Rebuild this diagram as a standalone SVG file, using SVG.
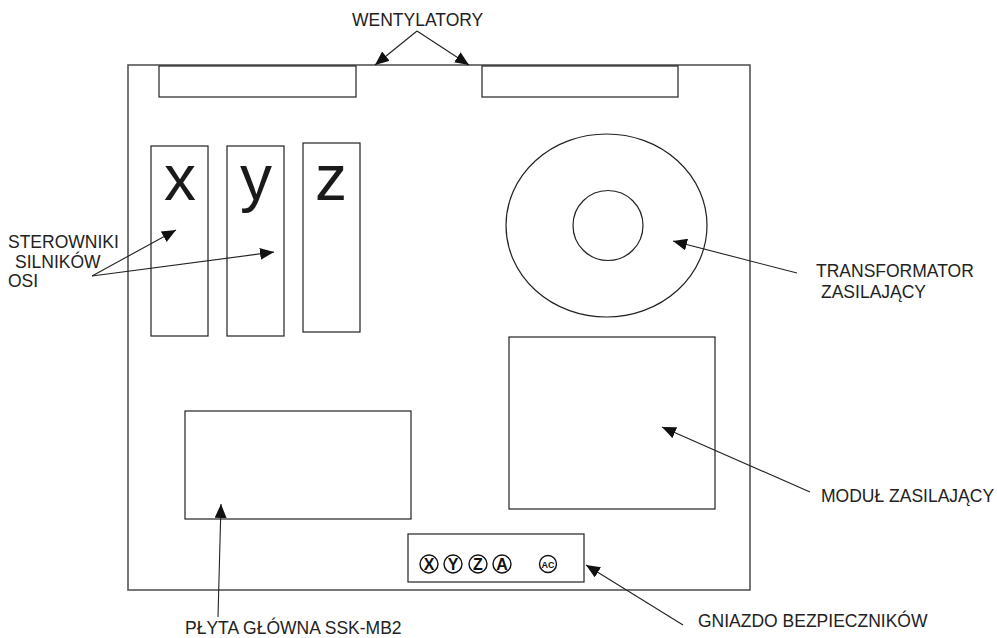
<svg xmlns="http://www.w3.org/2000/svg" width="997" height="638" viewBox="0 0 997 638">
<defs>
<style>
.box{fill:none;stroke:#222;stroke-width:1.2}
.frame{fill:none;stroke:#555;stroke-width:1.6}
.lbl{font-family:"Liberation Sans",Arial,sans-serif;font-size:17.5px;fill:#222}
.big{font-family:"Liberation Sans",Arial,sans-serif;font-size:64px;fill:#1a1a1a;text-anchor:middle}
.fuse{fill:none;stroke:#111;stroke-width:1.4}
.ft{font-family:"Liberation Sans",Arial,sans-serif;font-weight:bold;font-size:16px;fill:#111;text-anchor:middle}
.ft2{font-family:"Liberation Sans",Arial,sans-serif;font-weight:bold;font-size:9px;fill:#111;text-anchor:middle}
.con{fill:none;stroke:#222;stroke-width:1.1;marker-end:url(#ah)}
</style>
<marker id="ah" markerUnits="userSpaceOnUse" markerWidth="16" markerHeight="12" refX="14" refY="6" orient="auto">
<path d="M0,0 L14,6 L0,12 Z" fill="#111"/>
</marker>
</defs>
<g id="housing"><rect class="frame" x="128" y="65" width="622" height="525"/></g>
<g id="fan-left"><rect class="box" x="159" y="66" width="197" height="31"/></g>
<g id="fan-right"><rect class="box" x="482" y="66" width="196" height="31"/></g>
<g id="driver-x"><rect class="box" x="151" y="146" width="57" height="190"/><text class="big" x="180" y="200">x</text></g>
<g id="driver-y"><rect class="box" x="227" y="146" width="57" height="190"/><text class="big" x="256" y="200">y</text></g>
<g id="driver-z"><rect class="box" x="303" y="143" width="57" height="189"/><text class="big" x="331" y="200">z</text></g>
<g id="transformer"><ellipse class="box" cx="606.5" cy="225.5" rx="100.5" ry="91.5"/><circle class="box" cx="608" cy="225.5" r="35"/></g>
<g id="power-module"><rect class="box" x="509" y="337" width="206" height="172"/></g>
<g id="mainboard"><rect class="box" x="185" y="411" width="226" height="108"/></g>
<g id="fuse-socket"><rect class="box" x="408" y="534" width="176" height="48"/>
<circle class="fuse" cx="429" cy="564" r="9"/><text class="ft" x="429" y="570">X</text>
<circle class="fuse" cx="453" cy="564" r="9"/><text class="ft" x="453" y="570">Y</text>
<circle class="fuse" cx="478" cy="564" r="9"/><text class="ft" x="478" y="570">Z</text>
<circle class="fuse" cx="502" cy="564" r="9"/><text class="ft" x="502" y="570">A</text>
<circle class="fuse" cx="548" cy="564" r="8.5"/><text class="ft2" x="548" y="567.5">AC</text>
</g>
<g id="labels">
<text class="lbl" x="352" y="26">WENTYLATORY</text>
<text class="lbl" x="8" y="248">STEROWNIKI</text>
<text class="lbl" x="15" y="268">SILNIKÓW</text>
<text class="lbl" x="8" y="287">OSI</text>
<text class="lbl" x="816" y="277">TRANSFORMATOR</text>
<text class="lbl" x="821" y="298">ZASILAJĄCY</text>
<text class="lbl" x="821" y="502">MODUŁ ZASILAJĄCY</text>
<text class="lbl" x="698" y="627">GNIAZDO BEZPIECZNIKÓW</text>
<text class="lbl" x="185" y="634">PŁYTA GŁÓWNA SSK-MB2</text>
</g>
<g id="connectors">
<path class="con" d="M417,31 L375,65"/>
<path class="con" d="M417,31 L469,65"/>
<path class="con" d="M92,276 L176,230"/>
<path class="con" d="M92,276 L274,252"/>
<path class="con" d="M797,273 L673,241"/>
<path class="con" d="M810,492 L662,427"/>
<path class="con" d="M683,625 L586,565"/>
<path class="con" d="M218,617 L221,504"/>
</g>
</svg>
